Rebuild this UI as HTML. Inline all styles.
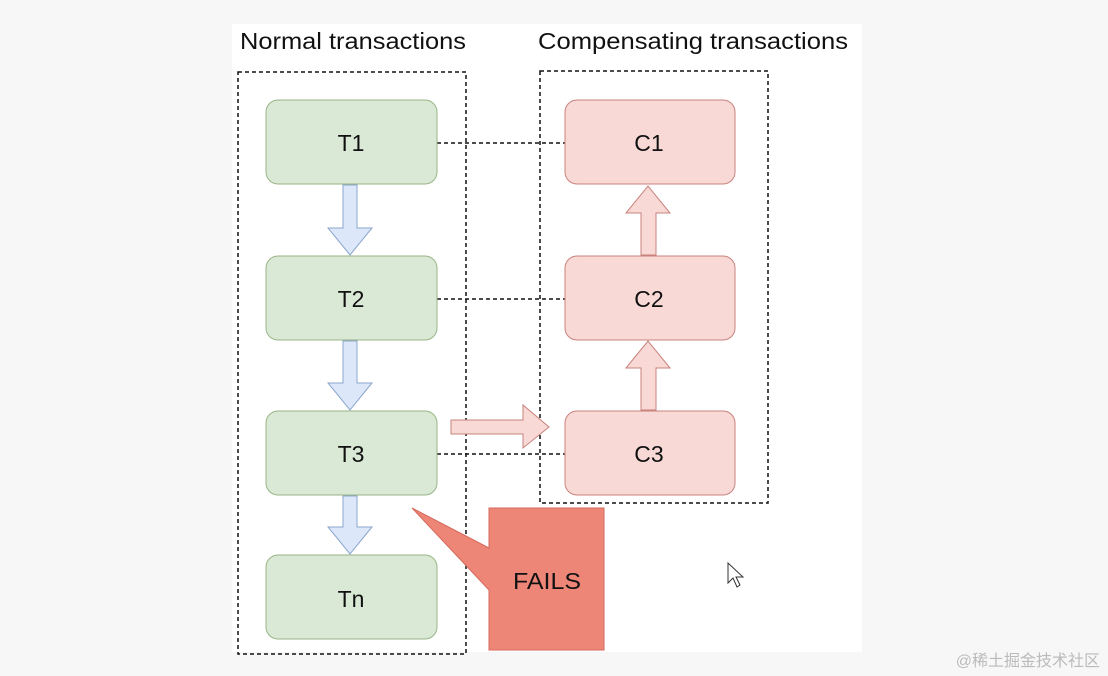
<!DOCTYPE html>
<html><head><meta charset="utf-8"><style>
body{margin:0;width:1108px;height:676px;background:#f7f7f7;overflow:hidden;font-family:"Liberation Sans",Arial,sans-serif}
</style></head><body>
<svg width="1108" height="676" xmlns="http://www.w3.org/2000/svg" style="position:absolute;left:0;top:0">
<rect x="232" y="24" width="630" height="628" fill="#fff"/>
<text x="240" y="49" font-size="23" fill="#111" font-family="Liberation Sans" textLength="226" lengthAdjust="spacingAndGlyphs">Normal transactions</text>
<text x="538" y="49" font-size="23" fill="#111" font-family="Liberation Sans" textLength="310" lengthAdjust="spacingAndGlyphs">Compensating transactions</text>
<g fill="none" stroke="#111" stroke-width="1.5" stroke-dasharray="4,3">
<rect x="238" y="72" width="228" height="582"/>
<rect x="540" y="71" width="228" height="432"/>
<line x1="437" y1="143" x2="565" y2="143"/>
<line x1="437" y1="299" x2="565" y2="299"/>
<line x1="437" y1="454" x2="565" y2="454"/>
</g>
<g fill="#dae8d6" stroke="#98b587" stroke-width="1">
<rect x="266" y="100" width="171" height="84" rx="12"/>
<rect x="266" y="256" width="171" height="84" rx="12"/>
<rect x="266" y="411" width="171" height="84" rx="12"/>
<rect x="266" y="555" width="171" height="84" rx="12"/>
</g>
<g fill="#f8d9d6" stroke="#c9827c" stroke-width="1">
<rect x="565" y="100" width="170" height="84" rx="12"/>
<rect x="565" y="256" width="170" height="84" rx="12"/>
<rect x="565" y="411" width="170" height="84" rx="12"/>
</g>
<g fill="#dce8fa" stroke="#8ba6cc" stroke-width="1">
<polygon points="343,185 357,185 357,228 372,228 350,255 328,228 343,228"/>
<polygon points="343,341 357,341 357,383 372,383 350,410 328,383 343,383"/>
<polygon points="343,496 357,496 357,527 372,527 350,554 328,527 343,527"/>
</g>
<g fill="#f8d9d6" stroke="#c9827c" stroke-width="1">
<polygon points="641,255 656,255 656,213 670,213 648,186 626,213 641,213"/>
<polygon points="641,410 656,410 656,368 670,368 648,341 626,368 641,368"/>
<polygon points="451,420 523,420 523,405 549,427 523,448 523,434 451,434"/>
</g>
<polygon points="489,508 604,508 604,650 489,650 489,590 412,508 489,548" fill="#ee8677" stroke="#d46a5c" stroke-width="1"/>
<g font-size="23" fill="#111" text-anchor="middle" font-family="Liberation Sans">
<text x="351" y="151">T1</text><text x="351" y="307">T2</text><text x="351" y="462">T3</text><text x="351" y="607">Tn</text>
<text x="649" y="151">C1</text><text x="649" y="307">C2</text><text x="649" y="462">C3</text>
<text x="547" y="589" textLength="68" lengthAdjust="spacingAndGlyphs">FAILS</text>
</g>
<polygon points="728,563 728,583 733,578 737,587 740,585 736,577 743,577" fill="#fff" stroke="#333" stroke-width="1"/>
<text x="1100" y="666" font-size="16" fill="#bbb" text-anchor="end" font-family="Liberation Sans, Noto Sans CJK SC, sans-serif">@稀土掘金技术社区</text>
</svg>
</body></html>
